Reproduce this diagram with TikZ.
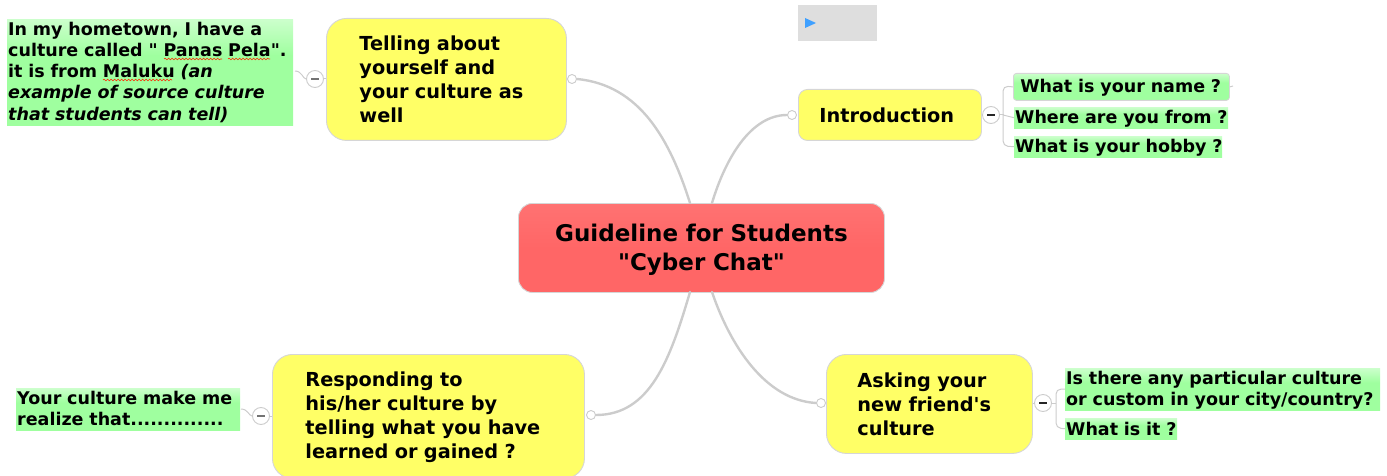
\documentclass[tikz,border=0pt]{standalone}
\usepackage{fontspec}
\setmainfont{DejaVu Sans}[Ligatures=TeXOff]
\usetikzlibrary{decorations.pathmorphing}
\definecolor{linegray}{HTML}{CCCCCC}
\definecolor{edgegray}{HTML}{D6D6D6}
\definecolor{yellowfill}{HTML}{FFFF66}
\definecolor{redfill}{HTML}{FF6666}
\definecolor{redtop}{HTML}{FF7272}
\definecolor{greenfill}{HTML}{9FFF9F}
\definecolor{greentop}{HTML}{CCFFCC}
\definecolor{playblue}{HTML}{3FA0FF}
\pgfdeclareverticalshading{greenfade}{100bp}{color(0bp)=(greenfill);color(25bp)=(greenfill);color(58bp)=(greenfill);color(75bp)=(greentop);color(100bp)=(greentop)}
\pgfdeclareverticalshading{redfade}{100bp}{color(0bp)=(redfill);color(25bp)=(redfill);color(50bp)=(redfill);color(75bp)=(redtop);color(100bp)=(redtop)}
\newcommand\headroom[1]{\rule{0pt}{#1pt}}
\tikzset{
  x=1pt,y=-1pt,
  topic/.style={draw=edgegray,line width=0.9pt,rounded corners=20pt,anchor=north west,align=left,inner ysep=0pt,
    fill=yellowfill,font=\fontsize{19.3}{24}\selectfont\bfseries},
  central/.style={draw=edgegray,line width=0.9pt,rounded corners=14pt,anchor=north west,align=center,inner sep=0pt,
    shading=redfade,font=\fontsize{23}{29}\selectfont\bfseries},
  note/.style={anchor=north west,align=left,inner ysep=0pt,inner xsep=1pt,
    shading=greenfade,font=\fontsize{17.5}{21.3}\selectfont\bfseries},
  branch/.style={line width=2.4pt,draw=linegray,line cap=round},
  twig/.style={line width=1pt,draw=linegray},
  knob/.style={circle,draw=linegray,fill=white,line width=0.9pt,inner sep=0pt,minimum size=9pt},
  toggle/.style={circle,draw=linegray,fill=white,line width=0.9pt,inner sep=0pt,minimum size=17pt},
  squiggle/.style={draw=red!70!orange,line width=0.6pt,decorate,decoration={snake,amplitude=0.8pt,segment length=3.5pt}}
}
\begin{document}
\begin{tikzpicture}
\useasboundingbox (0,0) rectangle (1387,476);

% play box
\node[fill=black!13,anchor=north west,minimum width=79pt,minimum height=36pt,inner sep=0pt] (player) at (798,5) {};
\fill[playblue] (805,18) -- (816,23) -- (805,28) -- cycle;

% central
\node[central,minimum width=366pt,minimum height=89pt,text width=366pt] (center) at (518,203) {\headroom{22}Guideline for Students\\"Cyber Chat"};

% topics
\node[topic,minimum width=240pt,minimum height=122pt,text width=174pt,inner xsep=33pt] (tell) at (326,18) {Telling about\\yourself and\\your culture as\\well};
\node[topic,rounded corners=9pt,minimum width=183pt,minimum height=51pt,text width=141pt,inner xsep=21pt] (intro) at (798,89) {Introduction};
\node[topic,minimum width=312pt,minimum height=124pt,text width=246pt,inner xsep=33pt] (resp) at (272,354) {\headroom{17}Responding to\\his/her culture by\\telling what you have\\learned or gained ?};
\node[topic,minimum width=206pt,minimum height=99pt,text width=144pt,inner xsep=31pt] (ask) at (826,354) {Asking your\\new friend's\\culture};

% knobs
\node[knob] (ktell) at (572,79) {};
\node[knob] (kintro) at (792,115) {};
\node[knob] (kresp) at (591,415) {};
\node[knob] (kask) at (821,403) {};

% main branches
\coordinate (c1) at (690,203);
\coordinate (c2) at (712,203);
\coordinate (c3) at (690,292);
\coordinate (c4) at (712,292);
\draw[branch] (c1) .. controls (670,140) and (640,85) .. (ktell.east);
\draw[branch] (c2) .. controls (725,160) and (750,115) .. (kintro.west);
\draw[branch] (c3) .. controls (670,360) and (650,415) .. (kresp.east);
\draw[branch] (c4) .. controls (730,345) and (765,400) .. (kask.west);

% notes
\node[note,text width=284pt,minimum width=286pt,minimum height=106pt] (nhome) at (7,19) {In my hometown, I have a\\culture called " Panas Pela".\\it is from Maluku \textit{(an}\\\textit{example of source culture}\\\textit{that students can tell)}};
\node[note,text width=222pt,minimum width=224pt,minimum height=42pt] (nreal) at (16,388) {Your culture make me\\realize that..............\rule[-2pt]{0pt}{2pt}};
\node[note,draw=edgegray,line width=0.8pt,rounded corners=3pt,text width=202pt,inner xsep=7pt,minimum width=216pt,minimum height=27pt] (qname) at (1013,73) {\headroom{15.5}\mbox{What is your name ?}};
\node[note,text width=212pt,minimum width=214pt,minimum height=21pt] (qfrom) at (1014,107) {\headroom{15.5}\mbox{Where are you from ?}};
\node[note,text width=206pt,minimum width=208pt,minimum height=21pt] (qhobby) at (1014,136) {\headroom{15.5}\mbox{What is your hobby ?}};
\node[note,text width=313pt,minimum width=315pt,minimum height=42pt] (qcustom) at (1065,368) {\headroom{15.5}Is there any particular culture\\or custom in your city/country?};
\node[note,text width=110pt,minimum width=112pt,minimum height=21pt] (qit) at (1065,418) {\mbox{What is it ?}};

% squiggles under misspelt names
\draw[squiggle] (164,59) -- (222,59);
\draw[squiggle] (228,59) -- (270,59);
\draw[squiggle] (103,80) -- (172,80);

% toggles
\node[toggle] (ttell) at (315,79) {};
\node[toggle] (tintro) at (991,115) {};
\node[toggle] (task) at (1043,403) {};
\node[toggle] (tresp) at (261,416) {};
\foreach \t/\c in {ttell/black!55,tintro/black!85,task/black!85,tresp/black!55}{
  \draw[draw=\c,line width=1.3pt] ([xshift=-4pt]\t.center) -- ([xshift=4pt]\t.center);
}

% toggle stubs
\draw[twig] (tell.west |- ttell) -- (ttell.east);
\draw[twig] (intro.east |- tintro) -- (tintro.west);
\draw[twig] (ask.east |- task) -- (task.west);
\draw[twig] (resp.west |- tresp) -- (tresp.east);

% leaf twigs
\coordinate (bi) at (1004,115);
\coordinate (ba) at (1056,403);
\draw[twig] (tintro.east) -- (bi);
\draw[twig,rounded corners=5pt] (qname.west) -- (1003,86) -- (1003,146) -- (qhobby.west);
\draw[twig] (1003,115) -- (qfrom.west);
\draw[twig] (task.east) -- (ba);
\draw[twig,rounded corners=5pt] (qcustom.west) -- (1056,389) -- (1056,428) -- (qit.west);
\coordinate (tailname) at (1233,86);
\draw[twig] (qname.east) -- (tailname);
\draw[twig] (ttell.west) .. controls (303,79) and (302,71) .. (295,71);
\draw[twig] (tresp.west) .. controls (249,416) and (248,409) .. (241,409);
\end{tikzpicture}
\end{document}
